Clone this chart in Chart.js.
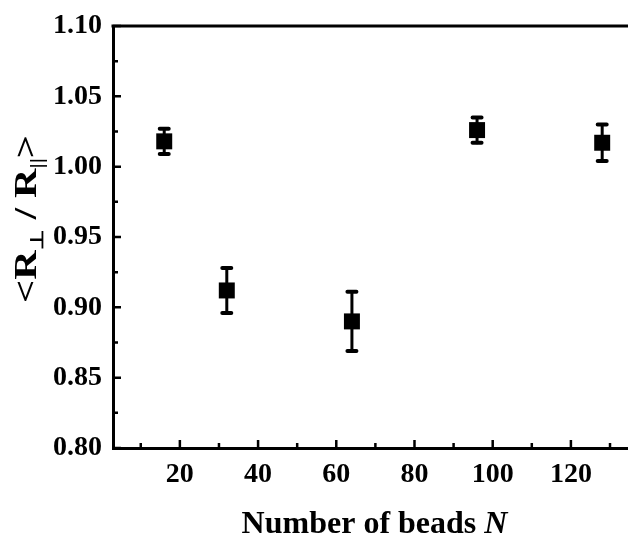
<!DOCTYPE html>
<html>
<head>
<meta charset="utf-8">
<script src="https://cdn.jsdelivr.net/npm/chart.js@4"></script>
<style>
  html, body { margin: 0; padding: 0; background: #fff; overflow: hidden; }
  canvas { display: block; }
</style>
</head>
<body>
<canvas id="chart" width="628" height="536"></canvas>
<script>
// data
const beads = [16, 32, 64, 96, 128];
const ratio = [1.018, 0.912, 0.890, 1.026, 1.017];
const ratioErr = [0.009, 0.016, 0.021, 0.009, 0.013];

const xTicks = [20, 40, 60, 80, 100, 120];
const yTicks = [0.80, 0.85, 0.90, 0.95, 1.00, 1.05, 1.10];

const serif = "'Liberation Serif', 'Times New Roman', serif";

// error bars, drawn under the squares
const errorBars = {
    id: 'errorBars',
    beforeDatasetsDraw(chart) {
        const { ctx, scales: { x, y } } = chart;
        ctx.save();
        ctx.strokeStyle = '#000';
        ctx.lineCap = 'round';
        beads.forEach((n, i) => {
            const px = x.getPixelForValue(n);
            const top = y.getPixelForValue(ratio[i] + ratioErr[i]);
            const bot = y.getPixelForValue(ratio[i] - ratioErr[i]);
            ctx.lineWidth = 3;
            ctx.beginPath();
            ctx.moveTo(px, top);
            ctx.lineTo(px, bot);
            ctx.stroke();
            ctx.lineWidth = 4;
            ctx.beginPath();
            ctx.moveTo(px - 4.5, top);
            ctx.lineTo(px + 4.5, top);
            ctx.moveTo(px - 4.5, bot);
            ctx.lineTo(px + 4.5, bot);
            ctx.stroke();
        });
        ctx.restore();
    }
};

// inward ticks, top frame line and the two axis titles
const frame = {
    id: 'frame',
    afterDraw(chart) {
        const { ctx, chartArea: a, scales: { x, y } } = chart;
        ctx.save();
        ctx.strokeStyle = '#000';
        ctx.lineWidth = 3;
        ctx.beginPath();
        ctx.moveTo(a.left - 1.5, a.top);
        ctx.lineTo(a.right, a.top);
        ctx.stroke();

        ctx.lineWidth = 2.5;
        const xs = x.ticks.map(t => t.value);
        const xStep = xs[1] - xs[0];
        ctx.beginPath();
        xs.forEach(v => {
            const p = x.getPixelForValue(v);
            ctx.moveTo(p, a.bottom);
            ctx.lineTo(p, a.bottom - 8);
        });
        for (let v = xs[0] - xStep / 2; v <= x.max; v += xStep) {
            if (v < x.min) continue;
            const p = x.getPixelForValue(v);
            ctx.moveTo(p, a.bottom);
            ctx.lineTo(p, a.bottom - 5);
        }
        const ys = y.ticks.map(t => t.value);
        const yStep = ys[1] - ys[0];
        ys.forEach(v => {
            const p = y.getPixelForValue(v);
            ctx.moveTo(a.left, p);
            ctx.lineTo(a.left + 8, p);
        });
        for (let v = ys[0] + yStep / 2; v < y.max; v += yStep) {
            const p = y.getPixelForValue(v);
            ctx.moveTo(a.left, p);
            ctx.lineTo(a.left + 5, p);
        }
        ctx.stroke();

        // x title
        ctx.fillStyle = '#000';
        ctx.textBaseline = 'alphabetic';
        ctx.textAlign = 'left';
        const f1 = 'bold 32px ' + serif;
        const f2 = 'italic bold 32px ' + serif;
        ctx.font = f1;
        const w1 = ctx.measureText('Number of beads ').width;
        ctx.font = f2;
        const w2 = ctx.measureText('N').width;
        let tx = (a.left + a.right) / 2 + 4 - (w1 + w2) / 2;
        ctx.font = f1;
        ctx.fillText('Number of beads ', tx, 533);
        ctx.font = f2;
        ctx.fillText('N', tx + w1, 533);

        // y title, rotated and stretched along its length like the original
        const parts = [
            ['<R', 31, 0], ['\u22A5', 18, 7], [' / R', 31, 0], ['||', 18, 7], ['>', 31, 0]
        ];
        let total = 0;
        parts.forEach(p => {
            ctx.font = 'bold ' + p[1] + 'px ' + serif;
            total += ctx.measureText(p[0]).width;
        });
        ctx.translate(36, 219);
        ctx.rotate(-Math.PI / 2);
        ctx.scale(168 / total, 1);
        let cx = -total / 2;
        parts.forEach(p => {
            ctx.font = 'bold ' + p[1] + 'px ' + serif;
            ctx.fillText(p[0], cx, p[2]);
            cx += ctx.measureText(p[0]).width;
        });
        ctx.restore();
    }
};

new Chart(document.getElementById('chart'), {
    type: 'scatter',
    data: {
        datasets: [{
            data: beads.map((n, i) => ({ x: n, y: ratio[i] })),
            pointStyle: 'rect',
            pointRadius: 11.3,
            pointHoverRadius: 11.3,
            backgroundColor: '#000',
            borderColor: '#000',
            borderWidth: 0
        }]
    },
    options: {
        responsive: false,
        animation: false,
        events: [],
        layout: { autoPadding: false, padding: { top: 26, right: 0, bottom: 0, left: 0 } },
        plugins: {
            legend: { display: false },
            tooltip: { enabled: false }
        },
        scales: {
            x: {
                type: 'linear',
                min: 2.9,
                max: 134.6,
                afterBuildTicks: s => { s.ticks = xTicks.map(v => ({ value: v })); },
                afterFit: s => { s.height = 88; s.paddingLeft = 0; s.paddingRight = 0; },
                grid: { display: false, drawTicks: false },
                border: { display: true, color: '#000', width: 3 },
                ticks: {
                    padding: 10,
                    color: '#000',
                    font: { family: serif, size: 28, weight: 'bold' },
                    maxRotation: 0
                }
            },
            y: {
                min: 0.80,
                max: 1.10,
                afterBuildTicks: s => { s.ticks = yTicks.map(v => ({ value: v })); },
                afterFit: s => { s.width = 113; s.paddingTop = 0; s.paddingBottom = 0; },
                grid: { display: false, drawTicks: false },
                border: { display: true, color: '#000', width: 3 },
                ticks: {
                    padding: 11,
                    color: '#000',
                    font: { family: serif, size: 28, weight: 'bold' },
                    callback: v => v.toFixed(2)
                }
            }
        }
    },
    plugins: [errorBars, frame]
});
</script>
</body>
</html>
